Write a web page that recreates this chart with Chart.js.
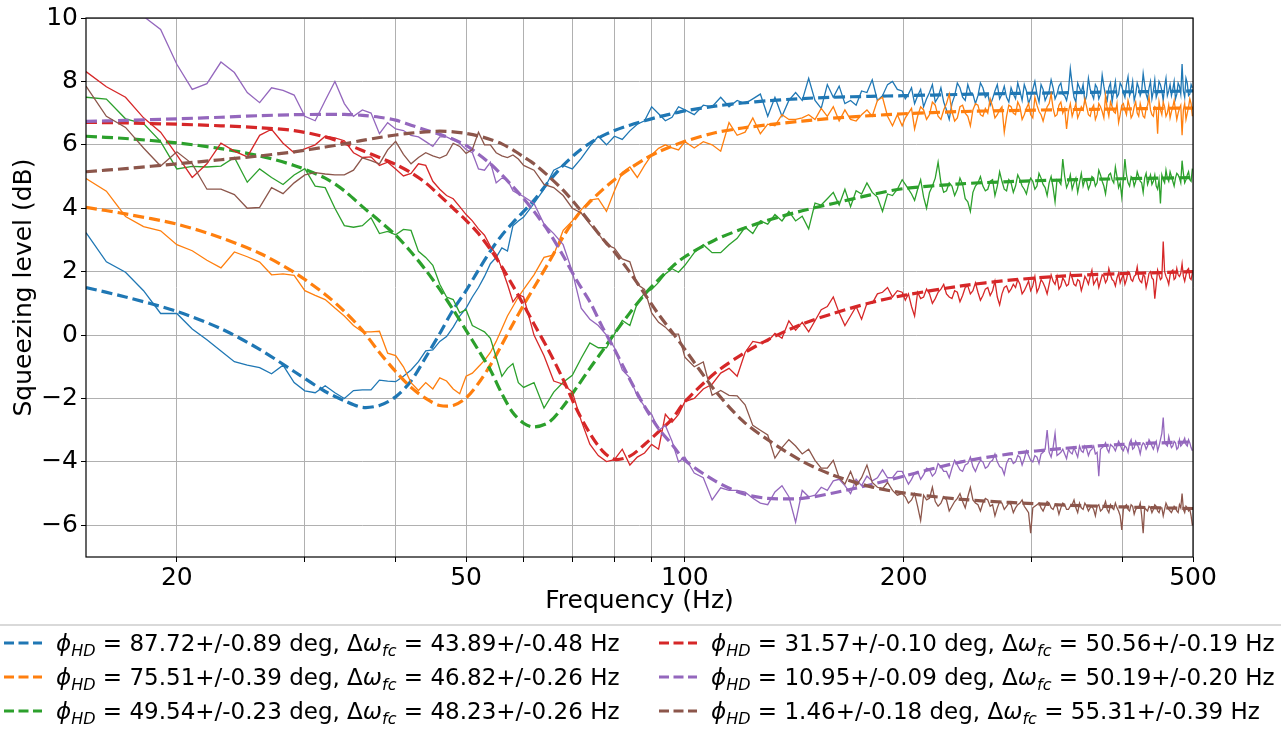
<!DOCTYPE html>
<html>
<head>
<meta charset="utf-8">
<script src="https://cdn.jsdelivr.net/npm/chart.js@4.4.1/dist/chart.umd.min.js"></script>
<style>
  body { margin: 0; background: #fff; font-family: 'DejaVu Sans', sans-serif; overflow: hidden; }
  #wrap { position: relative; width: 1281px; height: 730px; }
  #c { position: absolute; left: 0; top: 0; }
  #legend { position: absolute; left: -20px; top: 624px; width: 1330px; height: 130px;
            border: 2px solid #d9d9d9; border-radius: 6px; box-sizing: border-box; }
  .item { position: absolute; height: 30px; display: flex; align-items: center;
          font-size: 23px; color: #000; white-space: nowrap; }
  .item svg { margin-right: 14px; }
  .item sub { font-size: 16px; vertical-align: -5px; font-style: italic; line-height: 0; }
</style>
</head>
<body>
<div id="wrap">
  <canvas id="c" width="1281" height="625"></canvas>
  <div id="legend"></div>
</div>
<script>
// measured frequencies (Hz)
const freq = [15,16,17,18,19,20,21,22,23,24,25,26,27,28,29,30,31,32,33,34,35,36,37,38,39,40,41,42,43,44,45,46,47,48,49,50,51,52,53,54,55,56,57,58,59,60,
  62,64,66,68,70,72,74,76,78,80,82,84,86,88,90,92,94,96,98,100,
  103,106,109,112,115,118,121,124,127,130,133,136,139,142,145,148,151,154,157,160,163,166,169,172,175,178,181,184,187,190,193,196,199,
  201,203,205,207,209,211,213,215,217,219,221,223,225,227,229,231,233,235,237,239,
  241,243,245,247,249,251,253,255,257,259,261,263,265,267,269,271,273,275,277,279,
  281,283,285,287,289,291,293,295,297,299,301,303,305,307,309,311,313,315,317,319,
  321,323,325,327,329,331,333,335,337,339,341,343,345,347,349,351,353,355,357,359,
  361,363,365,367,369,371,373,375,377,379,381,383,385,387,389,391,393,395,397,399,
  401,403,405,407,409,411,413,415,417,419,421,423,425,427,429,431,433,435,437,439,
  441,443,445,447,449,451,453,455,457,459,461,463,465,467,469,471,473,475,477,479,
  481,483,485,487,489,491,493,495,497,499];

// measured squeezing (dB)
const measBlue = [3.23,2.31,1.98,1.4,0.68,0.68,0.19,-0.15,-0.5,-0.84,-0.95,-1.03,-1.22,-0.95,-1.5,
  -1.76,-1.82,-1.6,-1.82,-2.0,-1.75,-1.73,-1.73,-1.42,-1.45,
  -1.47,-1.3,-1.1,-0.84,-0.5,-0.47,-0.2,-0.05,0.25,0.6,
  0.85,1.2,1.5,1.85,2.25,2.45,2.75,2.65,3.45,3.6,3.72,
  4.15,4.6,5.2,5.35,5.24,5.57,5.95,6.27,6.0,6.27,6.17,6.44,6.65,6.76,7.2,6.98,6.76,6.87,7.2,7.1,
  6.95,7.25,7.2,7.5,7.2,7.4,7.3,7.45,7.6,6.9,7.5,6.9,7.4,7.65,7.4,8.1,7.4,7.15,7.9,7.5,7.85,7.3,7.4,7.25,7.7,7.65,8.05,7.4,7.55,7.9,8.0,7.75,7.7,
  7.45,7.6,7.8,7.3,7.55,7.75,7.2,7.45,7.65,7.9,7.35,7.5,7.8,7.35,7.1,6.8,7.3,7.55,7.95,7.8,
  7.5,7.4,7.9,7.65,7.6,7.3,7.55,7.95,7.8,7.5,7.6,7.25,7.45,7.7,7.9,7.45,7.6,7.85,7.5,7.35,
  7.8,7.6,7.45,7.95,7.7,7.4,7.9,7.7,7.3,7.5,7.75,8.0,7.6,7.35,7.9,7.75,7.4,7.55,7.7,8.05,
  7.8,7.45,7.6,7.85,7.95,7.6,7.55,7.4,7.7,8.4,7.9,7.5,7.35,7.95,7.8,7.65,7.9,7.35,7.55,8.1,
  7.75,7.6,7.45,7.9,7.8,7.45,7.6,8.2,7.85,7.55,7.4,7.8,7.95,7.35,7.7,8.0,7.5,7.6,7.95,7.85,
  7.65,7.5,7.9,8.15,7.55,7.7,8.0,7.4,7.6,7.95,7.8,7.55,7.7,8.25,7.9,7.6,7.45,7.8,8.0,7.45,
  7.7,8.05,7.5,7.65,8.0,7.9,7.7,7.4,7.85,8.1,7.55,7.7,7.9,7.55,7.75,8.0,7.45,7.6,7.95,7.85,
  7.6,8.55,7.7,7.5,8.1,7.95,7.55,7.6,7.9,7.8];
const measOrange = [4.94,4.54,3.74,3.42,3.29,2.85,2.66,2.36,2.12,2.62,2.47,2.3,1.9,1.93,1.88,
  1.4,1.25,1.12,0.85,0.6,0.3,0.1,0.1,0.12,-0.57,
  -0.65,-1.0,-1.5,-1.75,-1.5,-1.7,-1.35,-1.45,-1.7,-1.85,
  -1.3,-1.2,-1.0,-0.8,-0.55,-0.2,0.2,0.6,0.9,1.2,1.44,
  1.9,2.45,2.53,3.3,3.6,3.95,4.26,4.3,3.9,4.55,5.13,5.3,4.97,5.35,5.68,5.89,6.0,5.9,5.84,6.1,
  5.9,6.1,6.0,5.8,6.7,6.3,6.4,6.85,6.35,6.65,6.6,6.95,6.8,6.8,6.85,6.95,6.8,7.15,6.9,7.2,6.75,7.1,6.8,6.75,6.95,7.1,6.9,7.4,7.5,6.9,6.6,6.95,6.6,
  6.85,7.0,7.15,6.5,6.9,7.2,7.1,6.8,6.95,7.35,7.25,6.9,6.8,7.1,7.3,7.6,7.05,6.75,6.85,7.2,
  7.25,7.0,6.9,6.6,7.1,7.3,7.25,6.95,6.9,7.15,7.0,7.45,7.2,6.85,6.95,7.1,7.2,6.4,6.9,7.25,
  7.2,7.0,6.95,7.35,7.2,6.8,6.95,7.15,7.3,6.95,6.85,7.5,7.25,7.05,6.95,6.75,7.0,7.2,7.3,7.6,
  7.15,6.9,6.95,7.25,7.35,7.0,7.15,6.5,7.05,7.3,6.9,7.1,7.3,6.85,7.0,7.2,7.1,7.45,7.2,6.95,
  6.9,7.15,7.25,6.8,6.95,7.3,7.2,7.05,6.85,7.55,7.15,6.9,7.35,7.2,7.05,7.0,7.3,6.7,6.95,7.25,
  7.3,7.1,6.95,7.4,7.2,6.85,6.95,7.2,7.35,7.0,6.9,7.3,7.1,6.9,6.85,7.15,7.25,7.5,7.1,6.95,
  6.9,7.2,7.15,6.35,7.35,7.1,6.95,7.35,7.2,6.9,7.0,7.25,6.85,7.05,7.2,7.4,7.1,6.8,7.0,7.15,
  7.25,6.3,7.1,7.3,6.8,7.0,7.2,7.45,7.3,6.9];
const measGreen = [7.5,7.44,6.82,6.67,6.1,5.24,5.32,5.3,5.33,5.6,4.82,5.24,4.97,4.75,5.05,
  5.25,4.7,4.65,4.0,3.45,3.4,3.45,3.7,3.2,3.27,
  3.16,3.33,3.3,2.64,2.45,2.2,1.6,1.2,1.12,0.7,
  0.8,0.3,0.2,0.1,-0.1,-0.7,-1.3,-1.05,-0.9,-1.5,-1.65,
  -1.5,-2.3,-1.8,-1.49,-1.27,-0.73,-0.25,-0.4,-0.4,0.03,0.46,0.3,1.01,1.33,1.44,1.66,1.93,2.09,1.98,2.2,
  2.6,2.85,2.6,2.6,2.85,3.05,3.4,3.2,3.6,3.5,3.8,3.6,3.9,3.6,3.75,3.35,4.16,4.1,4.3,4.5,4.1,4.6,4.05,4.55,4.45,4.8,4.5,4.35,3.9,4.45,4.4,4.6,4.9,
  4.75,4.6,4.45,4.25,4.6,4.9,4.35,4.0,4.5,4.7,4.95,5.45,4.8,4.5,4.55,4.8,4.7,4.4,4.6,4.95,
  4.75,4.3,4.2,3.9,4.5,4.7,4.8,5.0,4.7,4.55,4.6,4.85,4.9,4.4,4.7,5.15,4.85,4.6,4.55,4.9,
  4.8,4.5,4.7,5.05,4.9,4.7,4.6,4.45,4.75,4.95,4.85,4.6,4.7,5.1,4.95,4.75,4.65,4.4,4.8,5.0,
  4.65,4.2,4.9,4.85,4.75,5.55,5.0,4.65,4.8,5.05,4.6,4.8,4.95,4.5,4.8,5.1,4.7,4.9,4.85,4.6,
  4.75,5.0,4.95,4.7,4.8,5.2,5.05,4.85,4.7,4.45,4.85,5.05,5.1,4.9,4.8,5.3,5.0,4.65,4.8,4.35,
  4.9,5.55,5.05,4.8,4.7,5.0,4.95,4.7,4.85,5.15,5.0,4.85,4.8,4.5,4.95,5.1,4.75,4.9,5.05,4.75,
  4.85,5.05,4.7,4.6,4.9,4.15,5.05,4.9,4.8,5.2,4.95,4.85,5.15,5.0,4.85,4.7,4.95,5.1,5.05,4.95,
  4.8,5.5,5.1,4.8,4.9,5.05,5.15,4.9,4.85,5.25];
const measRed = [8.31,7.83,7.5,6.85,6.4,5.68,4.97,5.4,6.05,5.8,5.62,6.3,6.49,6.05,5.75,
  5.87,6.0,6.27,6.22,6.13,5.75,5.6,5.62,5.35,5.45,
  5.24,5.02,5.1,5.4,5.35,4.85,4.6,4.4,4.3,4.05,
  3.8,3.6,3.35,3.15,2.8,2.55,2.1,1.6,1.05,1.28,1.2,
  0.0,-0.65,-1.45,-1.55,-1.8,-2.7,-3.44,-3.8,-3.99,-3.93,-3.6,-4.1,-3.85,-3.72,-3.45,-3.6,-2.5,-2.75,-2.5,-2.1,
  -2.0,-1.7,-1.55,-1.2,-1.05,-1.3,-0.55,-0.2,-0.25,-0.2,0.05,-0.1,0.45,0.15,0.4,0.1,0.45,0.8,0.9,1.2,0.7,0.3,0.6,0.9,0.5,1.0,1.0,1.3,1.35,1.5,1.2,1.4,1.35,
  1.1,1.3,0.9,0.6,1.35,1.15,1.2,1.45,1.3,1.0,1.15,1.35,1.45,1.6,1.3,1.2,1.15,1.4,1.35,1.05,
  1.25,1.5,1.55,1.3,1.4,1.65,1.35,1.1,1.25,1.45,1.5,1.25,1.4,1.7,1.2,0.95,1.3,1.5,1.55,1.35,
  1.45,1.6,1.5,1.75,1.6,1.3,1.4,1.55,1.7,1.4,1.55,1.85,1.35,1.5,1.75,1.65,1.5,1.3,1.6,1.9,
  1.7,1.6,1.85,1.45,1.55,1.8,1.7,1.55,1.6,1.95,1.8,1.6,1.55,1.75,1.7,1.4,1.6,1.85,1.75,1.6,
  1.85,2.05,1.6,1.7,1.8,1.5,1.7,1.9,1.85,1.65,1.75,2.1,1.9,1.75,1.7,1.55,1.8,1.95,1.65,1.8,
  1.9,1.6,1.75,2.0,1.95,1.75,1.7,1.85,1.9,2.15,1.8,1.7,1.65,1.9,1.85,1.5,1.7,1.95,2.0,1.8,
  1.75,1.15,1.6,2.05,1.9,1.75,1.8,2.95,2.0,1.85,1.75,1.6,1.9,2.0,2.05,1.75,1.8,2.1,1.9,1.85,
  1.95,2.25,1.85,1.7,1.9,2.05,2.1,1.8,1.75,1.95];
const measPurple = [10.9,10.6,10.4,10.05,9.64,8.54,7.75,7.93,8.61,8.28,7.65,7.33,7.8,7.72,7.57,
  6.9,6.76,7.4,8.0,7.3,6.9,7.1,7.0,6.35,6.7,
  6.5,6.45,6.3,6.25,6.1,5.95,6.25,6.25,6.15,6.05,
  5.85,5.75,5.24,5.2,5.45,4.8,4.95,4.9,4.55,4.45,4.37,
  4.15,3.5,3.2,2.85,2.0,0.85,0.5,0.3,0.0,-0.4,-1.1,-1.35,-1.93,-2.25,-2.5,-3.0,-2.85,-3.35,-4.0,-3.85,
  -4.35,-4.5,-5.2,-4.82,-4.9,-4.9,-4.95,-5.15,-5.3,-5.35,-4.95,-4.75,-5.1,-5.9,-4.9,-5.1,-5.05,-4.8,-4.9,-4.6,-4.55,-4.75,-5.0,-4.55,-4.75,-4.45,-4.6,-4.5,-4.25,-4.5,-4.5,-4.3,-4.3,
  -4.5,-4.7,-4.55,-4.35,-4.3,-4.55,-4.4,-4.2,-4.25,-4.45,-4.35,-4.05,-4.15,-4.3,-4.3,-4.5,-4.2,-3.95,-4.1,-4.25,
  -4.3,-4.1,-4.05,-3.85,-4.15,-4.3,-4.1,-3.95,-4.0,-4.2,-4.15,-4.0,-3.95,-3.75,-4.0,-4.15,-4.2,-4.4,-4.05,-3.9,
  -3.9,-4.05,-4.0,-3.8,-3.85,-4.1,-3.9,-3.65,-3.8,-3.95,-4.0,-3.8,-3.85,-4.05,-3.75,-3.7,-3.6,-3.0,-3.7,-3.85,
  -3.55,-3.1,-3.8,-3.75,-3.7,-3.6,-3.75,-3.9,-3.6,-3.7,-3.75,-3.55,-3.7,-3.85,-3.5,-3.65,-3.7,-3.5,-3.6,-3.8,
  -3.65,-3.6,-3.5,-3.75,-3.7,-4.45,-3.6,-3.55,-3.5,-3.4,-3.6,-3.7,-3.45,-3.5,-3.55,-3.65,-3.5,-3.35,-3.45,-3.6,
  -3.65,-3.5,-3.55,-3.7,-3.4,-3.3,-3.6,-3.55,-3.35,-3.45,-3.55,-3.75,-3.5,-3.4,-3.45,-3.6,-3.5,-3.3,-3.4,-3.5,
  -3.6,-3.45,-3.35,-3.65,-3.5,-3.3,-3.1,-2.6,-3.35,-3.45,-3.5,-3.2,-3.4,-3.55,-3.5,-3.35,-3.4,-3.6,-3.55,-3.3,
  -3.5,-3.45,-3.35,-3.25,-3.45,-3.5,-3.3,-3.4,-3.55,-3.65];
const measBrown = [7.85,6.9,6.55,5.9,5.33,5.78,5.4,4.6,4.6,4.43,4.0,4.03,4.65,4.46,4.8,
  5.05,5.12,5.08,5.05,5.05,5.2,5.59,5.5,5.4,5.84,
  6.11,5.7,5.4,5.6,5.75,5.65,5.58,5.68,6.05,5.95,
  5.73,5.85,6.4,6.0,6.0,5.75,5.65,5.6,5.68,5.55,5.35,
  5.2,4.75,4.65,4.4,4.0,3.85,3.5,3.2,2.85,2.74,2.4,2.31,1.6,1.44,0.7,0.4,0.25,0.03,0.03,-0.7,
  -1.0,-0.85,-1.9,-1.75,-1.9,-1.92,-2.2,-2.85,-3.0,-3.15,-3.88,-3.55,-3.3,-3.5,-3.75,-3.6,-3.95,-4.2,-4.2,-3.95,-4.5,-4.7,-4.3,-4.75,-4.5,-4.1,-4.65,-4.8,-4.85,-4.65,-4.9,-5.05,-5.0,
  -5.1,-5.3,-5.2,-5.0,-5.4,-5.85,-5.05,-5.2,-5.15,-4.8,-5.25,-5.4,-5.3,-5.1,-5.2,-5.55,-5.4,-5.25,-5.15,-5.0,
  -5.25,-5.45,-5.1,-4.8,-5.2,-5.3,-5.35,-5.55,-5.3,-5.15,-5.2,-5.4,-5.35,-5.7,-5.45,-5.25,-5.3,-5.5,-5.4,-5.3,
  -5.35,-5.6,-5.45,-5.35,-5.3,-5.2,-5.4,-5.5,-5.6,-6.25,-5.45,-5.4,-5.35,-5.3,-5.45,-5.55,-5.4,-5.25,-5.3,-5.45,
  -5.5,-5.35,-5.4,-5.65,-5.45,-5.3,-5.35,-5.5,-5.5,-5.4,-5.35,-5.2,-5.45,-5.6,-5.3,-5.45,-5.5,-5.3,-5.4,-5.55,
  -5.45,-5.4,-5.5,-5.7,-5.4,-5.35,-5.55,-5.5,-5.4,-5.25,-5.5,-5.6,-5.35,-5.45,-5.5,-5.3,-5.45,-5.55,-5.7,-6.15,
  -5.5,-5.4,-5.35,-5.5,-5.55,-5.35,-5.4,-5.65,-5.5,-5.45,-5.45,-5.3,-5.7,-6.25,-5.45,-5.5,-5.55,-5.4,-5.45,-5.6,
  -5.5,-5.35,-5.4,-5.55,-5.6,-5.45,-5.45,-5.7,-5.5,-5.3,-5.4,-5.5,-5.55,-5.6,-5.5,-5.4,-5.45,-5.55,-5.6,-5.35,
  -5.45,-5.0,-5.5,-5.6,-5.4,-5.45,-5.55,-5.5,-5.7,-6.0];

// fitted curves (dB) at fit frequencies
const fitFreq = [15,17,20,23,26,29,32,34,36,38,40,42,44,46,48,50,52,54,56,58,60,62,65,68,71,74,77,80,84,88,92,96,100,110,120,130,145,160,180,200,240,280,330,400,450,500];
const fitBlue = [1.5,1.2,0.75,0.2,-0.45,-1.15,-1.78,-2.07,-2.28,-2.22,-1.95,-1.45,-0.7,0.05,0.8,1.4,2.05,2.65,3.15,3.55,3.9,4.25,4.85,5.35,5.75,6.05,6.28,6.45,6.62,6.76,6.88,6.98,7.07,7.22,7.32,7.39,7.46,7.5,7.53,7.55,7.59,7.62,7.64,7.67,7.68,7.7];
const fitOrange = [4.03,3.82,3.5,3.07,2.58,1.98,1.28,0.75,0.15,-0.55,-1.15,-1.65,-2.0,-2.22,-2.22,-1.98,-1.52,-0.95,-0.3,0.35,0.95,1.5,2.3,3.1,3.75,4.2,4.58,4.9,5.25,5.55,5.78,5.96,6.11,6.38,6.53,6.63,6.75,6.84,6.92,6.98,7.05,7.08,7.11,7.13,7.15,7.16];
const fitGreen = [6.27,6.2,6.06,5.88,5.65,5.35,4.95,4.55,4.05,3.6,3.15,2.62,2.05,1.44,0.8,0.15,-0.48,-1.1,-1.85,-2.45,-2.78,-2.9,-2.75,-2.25,-1.65,-1.05,-0.5,0.05,0.7,1.28,1.75,2.15,2.47,3.0,3.35,3.62,3.92,4.15,4.42,4.62,4.77,4.84,4.89,4.93,4.95,4.97];
const fitRed = [6.71,6.69,6.65,6.6,6.54,6.45,6.25,6.05,5.82,5.6,5.38,5.12,4.8,4.4,4.0,3.62,3.2,2.7,2.15,1.55,0.95,0.35,-0.5,-1.4,-2.35,-3.1,-3.65,-3.92,-3.82,-3.45,-3.05,-2.65,-2.1,-1.2,-0.6,-0.15,0.35,0.68,1.02,1.25,1.55,1.73,1.86,1.94,1.97,2.0];
const fitPurple = [6.74,6.77,6.82,6.87,6.92,6.95,6.96,6.96,6.93,6.87,6.78,6.62,6.47,6.33,6.18,5.98,5.7,5.4,5.05,4.68,4.3,3.9,3.25,2.5,1.72,1.05,0.25,-0.45,-1.4,-2.25,-2.95,-3.45,-3.95,-4.6,-5.0,-5.15,-5.15,-4.98,-4.72,-4.45,-4.0,-3.75,-3.58,-3.45,-3.4,-3.37];
const fitBrown = [5.15,5.25,5.4,5.53,5.65,5.78,5.93,6.03,6.14,6.23,6.31,6.37,6.41,6.43,6.41,6.36,6.28,6.17,6.03,5.84,5.62,5.4,5.0,4.57,4.08,3.56,3.05,2.62,1.98,1.3,0.65,0.1,-0.45,-1.75,-2.7,-3.3,-3.98,-4.42,-4.78,-4.98,-5.18,-5.28,-5.36,-5.42,-5.45,-5.47];

// legend texts
const phiVal = ['87.72','75.51','49.54','31.57','10.95','1.46'];
const phiErr = ['0.89','0.39','0.23','0.10','0.09','0.18'];
const dwVal = ['43.89','46.82','48.23','50.56','50.19','55.31'];
const dwErr = ['0.48','0.26','0.26','0.19','0.20','0.39'];

// axes
const xTicks = [20,30,40,50,60,70,80,90,100,200,300,400,500];
const xLabels = [20,50,100,200,500];
const yTicks = [-6,-4,-2,0,2,4,6,8,10];

const colors = ['#1f77b4','#ff7f0e','#2ca02c','#d62728','#9467bd','#8c564b'];
const meas = [measBlue, measOrange, measGreen, measRed, measPurple, measBrown];
const fits = [fitBlue, fitOrange, fitGreen, fitRed, fitPurple, fitBrown];

function pts(xs, ys) {
  return xs.map(function(x, i) { return {x: x, y: ys[i]}; });
}

var datasets = [];
for (var i = 0; i < 6; i++) {
  datasets.push({
    data: pts(freq, meas[i]),
    borderColor: colors[i],
    borderWidth: 1.3,
    pointRadius: 0,
    showLine: true,
    tension: 0
  });
  datasets.push({
    data: pts(fitFreq, fits[i]),
    borderColor: colors[i],
    borderWidth: 3.2,
    borderDash: [11, 5],
    pointRadius: 0,
    showLine: true,
    tension: 0.3
  });
}
// later series drawn on top, like matplotlib
datasets.forEach(function(d, k) { d.order = datasets.length - k; });

const frame = {
  id: 'frame',
  afterDraw: function(chart) {
    var a = chart.chartArea, ctx = chart.ctx;
    ctx.save();
    ctx.strokeStyle = '#000';
    ctx.lineWidth = 1.2;
    ctx.strokeRect(a.left, a.top, a.right - a.left, a.bottom - a.top);
    ctx.restore();
  }
};

function fmt(v) { return v < 0 ? '\u2212' + Math.abs(v) : String(v); }

new Chart(document.getElementById('c'), {
  type: 'scatter',
  data: { datasets: datasets },
  plugins: [frame],
  options: {
    responsive: false,
    animation: false,
    devicePixelRatio: 1,
    layout: { padding: { top: 17, right: 88, left: 0, bottom: 0 } },
    plugins: { legend: { display: false }, tooltip: { enabled: false } },
    scales: {
      x: {
        type: 'logarithmic',
        min: 15, max: 500,
        afterBuildTicks: function(s) { s.ticks = xTicks.map(function(v) { return {value: v}; }); },
        afterFit: function(s) { s.height = 68; },
        grid: { color: '#b0b0b0', lineWidth: 1, tickColor: '#000', tickLength: 5 },
        border: { display: false },
        ticks: {
          autoSkip: false, maxRotation: 0, padding: 1,
          color: '#000', font: { family: 'DejaVu Sans', size: 25 },
          callback: function(v) { return xLabels.indexOf(v) >= 0 ? String(v) : ''; }
        },
        title: { display: true, text: 'Frequency (Hz)', color: '#000',
                 font: { family: 'DejaVu Sans', size: 25 }, padding: { top: 0, bottom: 9 } }
      },
      y: {
        min: -7, max: 10,
        afterBuildTicks: function(s) { s.ticks = yTicks.map(function(v) { return {value: v}; }); },
        afterFit: function(s) { s.width = 86; },
        grid: { color: '#b0b0b0', lineWidth: 1, tickColor: '#000', tickLength: 5 },
        border: { display: false },
        ticks: { padding: 3, color: '#000', font: { family: 'DejaVu Sans', size: 25 },
                 callback: function(v) { return fmt(v); } },
        title: { display: true, text: 'Squeezing level (dB)', color: '#000',
                 font: { family: 'DejaVu Sans', size: 25 }, padding: { top: 9, bottom: 0 } }
      }
    }
  }
});

// legend in two columns, three rows
var leg = document.getElementById('legend');
var colX = [22, 677];
var rowY = [2, 36, 70];
for (var k = 0; k < 6; k++) {
  var col = Math.floor(k / 3), row = k % 3;
  var div = document.createElement('div');
  div.className = 'item';
  div.style.left = colX[col] + 'px';
  div.style.top = rowY[row] + 'px';
  div.innerHTML =
    '<svg width="38" height="6"><line x1="0" y1="3" x2="38" y2="3" stroke="' + colors[k] +
    '" stroke-width="3" stroke-dasharray="10 4.5"/></svg>' +
    '<span><i>\u03d5</i><sub>HD</sub> = ' + phiVal[k] + '+/-' + phiErr[k] + ' deg, \u0394<i>\u03c9</i><sub>fc</sub> = ' +
    dwVal[k] + '+/-' + dwErr[k] + ' Hz</span>';
  leg.appendChild(div);
}
</script>
</body>
</html>
